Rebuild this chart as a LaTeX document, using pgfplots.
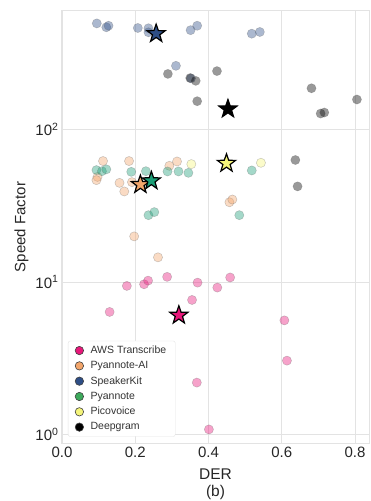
\documentclass[border=0pt]{standalone}
\usepackage{pgfplots}
\pgfplotsset{compat=1.18}
\usetikzlibrary{calc}
\usepackage{fontspec}
\setmainfont{Liberation Sans}
\definecolor{cAWS}{HTML}{E8177A}
\definecolor{cPAI}{HTML}{F2A56B}
\definecolor{cSK}{HTML}{2E4E86}
\definecolor{cPY}{HTML}{1B9E77}
\definecolor{cPYleg}{HTML}{3DAA5C}
\definecolor{cPV}{HTML}{F4F47A}
\definecolor{cDG}{HTML}{000000}
\definecolor{gridc}{HTML}{E3E3E3}
\pgfdeclareplotmark{fstar}{%
  \pgfpathmoveto{\pgfqpointpolar{90}{\pgfplotmarksize}}%
  \pgfpathlineto{\pgfqpointpolar{126}{0.40\pgfplotmarksize}}%
  \pgfpathlineto{\pgfqpointpolar{162}{\pgfplotmarksize}}%
  \pgfpathlineto{\pgfqpointpolar{198}{0.40\pgfplotmarksize}}%
  \pgfpathlineto{\pgfqpointpolar{234}{\pgfplotmarksize}}%
  \pgfpathlineto{\pgfqpointpolar{270}{0.40\pgfplotmarksize}}%
  \pgfpathlineto{\pgfqpointpolar{306}{\pgfplotmarksize}}%
  \pgfpathlineto{\pgfqpointpolar{342}{0.40\pgfplotmarksize}}%
  \pgfpathlineto{\pgfqpointpolar{18}{\pgfplotmarksize}}%
  \pgfpathlineto{\pgfqpointpolar{54}{0.40\pgfplotmarksize}}%
  \pgfpathclose
  \pgfusepathqfillstroke}
\pgfplotsset{
  pts/.style={only marks, mark=*, mark size=4.6pt, forget plot,
    mark options={fill=#1, fill opacity=0.4, draw=black!60, draw opacity=0.35, line width=0.5pt}},
  stars/.style={only marks, mark=fstar, mark size=9.5pt, forget plot,
    mark options={fill=#1, draw=black, line width=1.2pt}},
  leg/.style={only marks, mark=*, mark size=4.2pt, mark options={fill=#1, draw=black!75, line width=0.6pt}},
}
\begin{document}
\begin{tikzpicture}
\begin{axis}[
  scale only axis, width=307pt, height=432pt,
  ymode=log, xmin=0, xmax=0.838, ymin=0.88, ymax=597,
  axis line style={gridc, line width=1pt},
  grid=major, major grid style={gridc, line width=0.8pt},
  tick style={draw=none},
  xtick={0,0.2,0.4,0.6,0.8},
  xticklabels={0.0,0.2,0.4,0.6,0.8},
  ytick={1,10,100},
  yticklabels={10\textsuperscript{0},10\textsuperscript{1},10\textsuperscript{2}},
  ticklabel style={font=\fontsize{15}{18}\selectfont, text=black!85},
  xlabel={DER\\(b)}, xlabel style={align=center, font=\fontsize{15.5}{17}\selectfont, text=black!85, yshift=-5pt},
  ylabel={Speed Factor}, ylabel style={font=\fontsize{15}{18}\selectfont, text=black!85},
  legend style={at={(0.0195,0.0146)}, anchor=south west, draw=gridc, rounded corners=2pt,
    font=\fontsize{10.5}{12}\selectfont, text=black!80, row sep=2.4pt, column sep=5pt,
    inner xsep=7pt, inner ysep=3pt},
  legend cell align=left,
  clip=false,
]
% SpeakerKit
\addplot[pts=cSK] coordinates {(0.095,495) (0.121,467) (0.127,478) (0.207,462) (0.236,460) (0.236,433) (0.351,447) (0.369,478) (0.518,424) (0.540,435) (0.311,261) (0.352,216)};
% Deepgram
\addplot[pts=cDG] coordinates {(0.289,231) (0.365,208) (0.350,217) (0.369,153) (0.423,241) (0.681,186) (0.706,127) (0.716,129) (0.805,157) (0.637,63) (0.643,42.3)};
% Pyannote-AI
\addplot[pts=cPAI] coordinates {(0.112,62) (0.183,62) (0.314,61.6) (0.293,57.7) (0.097,48.8) (0.094,46.5) (0.157,44.6) (0.191,45.1) (0.170,39.2) (0.457,33.3) (0.465,34.7) (0.197,19.9) (0.262,14.5)};
% Pyannote
\addplot[pts=cPY] coordinates {(0.094,54.1) (0.109,53.2) (0.121,54.7) (0.189,52.7) (0.229,53.2) (0.288,53) (0.318,53) (0.345,51.9) (0.518,53.8) (0.236,27.4) (0.252,28.7) (0.484,27.4)};
% Picovoice
\addplot[pts=cPV] coordinates {(0.353,59.2) (0.543,60.4)};
% AWS Transcribe
\addplot[pts=cAWS] coordinates {(0.177,9.42) (0.224,9.66) (0.235,10.2) (0.287,10.8) (0.370,9.9) (0.424,9.19) (0.459,10.7) (0.355,7.62) (0.130,6.36) (0.607,5.6) (0.614,3.05) (0.368,2.19) (0.401,1.08)};
% stars (means)
\addplot[stars=cSK] coordinates {(0.257,424)};
\addplot[stars=cDG] coordinates {(0.453,136)};
\addplot[stars=cPV] coordinates {(0.449,59.9)};
\addplot[stars=cPAI] coordinates {(0.214,43.5)};
\addplot[stars=cPY] coordinates {(0.244,46.0)};
\addplot[stars=cAWS] coordinates {(0.319,6.05)};
% legend
\addlegendimage{leg=cAWS}\addlegendentry{AWS Transcribe}
\addlegendimage{leg=cPAI}\addlegendentry{Pyannote-AI}
\addlegendimage{leg=cSK}\addlegendentry{SpeakerKit}
\addlegendimage{leg=cPYleg}\addlegendentry{Pyannote}
\addlegendimage{leg=cPV}\addlegendentry{Picovoice}
\addlegendimage{leg=cDG}\addlegendentry{Deepgram}
\end{axis}
\pgfresetboundingbox
\path ($(current axis.south west)+(-62pt,-58pt)$) rectangle ($(current axis.north east)+(1pt,11pt)$);
\end{tikzpicture}
\end{document}
